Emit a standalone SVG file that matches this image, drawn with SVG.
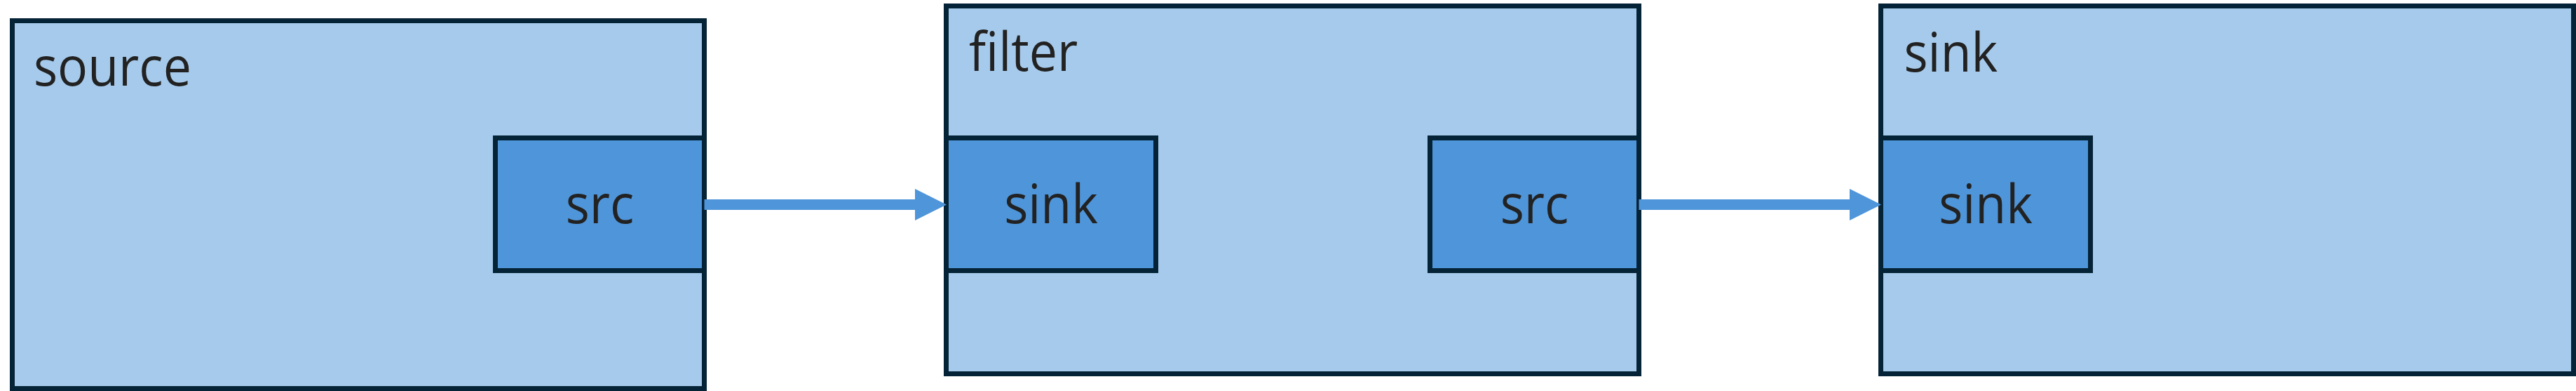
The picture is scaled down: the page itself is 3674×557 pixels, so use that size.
<svg xmlns="http://www.w3.org/2000/svg" width="3674" height="557" viewBox="0 0 3674 557">
  <style>
    .box { fill: #A6CAEB; stroke: #052336; stroke-width: 7; }
    .port { fill: #4F95D9; stroke: #052336; stroke-width: 7; }
    .title { font-family: "Open Sans", "Noto Sans", "DejaVu Sans", sans-serif; font-size: 77px; fill: #222222; }
    .lbl { font-family: "Open Sans", "Noto Sans", "DejaVu Sans", sans-serif; font-size: 77px; fill: #222222; text-anchor: middle; }
    .conn { stroke: #4F95D9; stroke-width: 15; fill: none; }
  </style>
  <defs>
    <marker id="arrow" viewBox="0 0 3 3" refX="0" refY="1.5" markerWidth="3" markerHeight="3" markerUnits="strokeWidth" orient="auto">
      <path d="M0,0 L3,1.5 L0,3 Z" fill="#4F95D9"/>
    </marker>
  </defs>
  <rect width="3674" height="557" fill="#FFFFFF"/>

  <g id="source">
    <rect class="box" x="17.5" y="29.5" width="987" height="524"/>
    <text class="title" transform="translate(48 122.3) scale(0.93 1)" x="0" y="0">source</text>
    <g id="source-src">
      <rect class="port" x="706.5" y="196.5" width="298" height="189"/>
      <text class="lbl" transform="translate(855.5 317.7) scale(0.93 1)" x="0" y="0">src</text>
    </g>
  </g>

  <g id="filter">
    <rect class="box" x="1349.5" y="8.5" width="988" height="524"/>
    <text class="title" transform="translate(1382 101) scale(0.93 1)" x="0" y="0">filter</text>
    <g id="filter-sink">
      <rect class="port" x="1349.5" y="196.5" width="299" height="189"/>
      <text class="lbl" transform="translate(1499 317.7) scale(0.93 1)" x="0" y="0">sink</text>
    </g>
    <g id="filter-src">
      <rect class="port" x="2039.5" y="196.5" width="298" height="189"/>
      <text class="lbl" transform="translate(2188.5 317.7) scale(0.93 1)" x="0" y="0">src</text>
    </g>
  </g>

  <g id="sink">
    <rect class="box" x="2682.5" y="8.5" width="988" height="524"/>
    <text class="title" transform="translate(2715.5 102.3) scale(0.93 1)" x="0" y="0">sink</text>
    <g id="sink-sink">
      <rect class="port" x="2682.5" y="196.5" width="299" height="189"/>
      <text class="lbl" transform="translate(2832 317.7) scale(0.93 1)" x="0" y="0">sink</text>
    </g>
  </g>

  <g id="connectors">
    <line class="conn" x1="1004.5" y1="291.5" x2="1305" y2="291.5" marker-end="url(#arrow)"/>
    <line class="conn" x1="2337.5" y1="291.5" x2="2638" y2="291.5" marker-end="url(#arrow)"/>
  </g>
</svg>
